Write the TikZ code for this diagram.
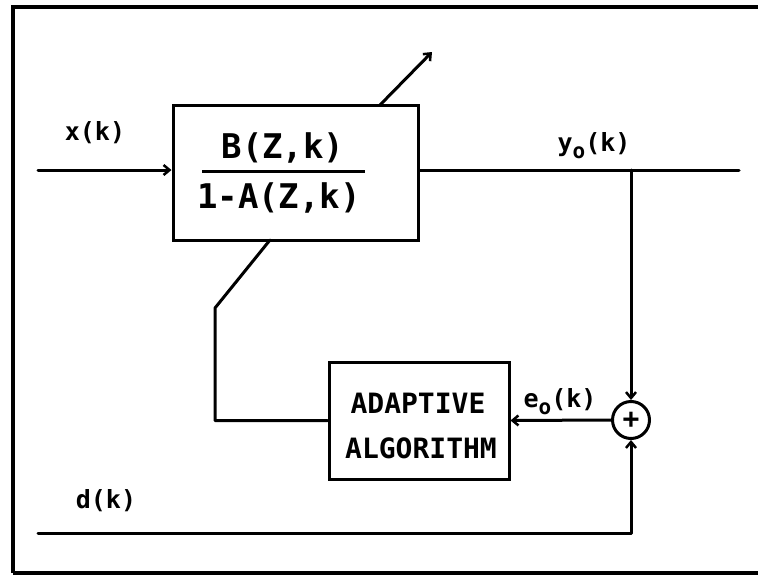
\documentclass[tikz,border=0pt]{standalone}
\usepackage{fontspec}
\newfontfamily\plotfont{DejaVu Sans Mono}
\usetikzlibrary{arrows.meta}
\tikzset{
  wire/.style={line width=3pt, line cap=round, line join=round},
  arr/.style={wire, -{Straight Barb[length=6pt,width=10pt,line width=2.5pt]}},
  blockbox/.style={draw, line width=3pt, rectangle, inner sep=0pt},
  bigtxt/.style={font=\plotfont\bfseries\fontsize{34}{34}\selectfont, inner sep=0pt},
  midtxt/.style={font=\plotfont\bfseries\fontsize{28}{28}\selectfont, inner sep=0pt},
  lbltxt/.style={font=\plotfont\bfseries\fontsize{25}{25}\selectfont, inner sep=0pt},
  summer/.style={draw, circle, line width=3pt, minimum size=37pt, inner sep=0pt}
}
\begin{document}
\begin{tikzpicture}[x=1pt,y=-1pt]
\useasboundingbox (0,0) rectangle (758,576);
% frame
\draw[line width=4.5pt] (13,573) -- (13,7) -- (758,7);
\draw[line width=4.5pt] (13,573) -- (758,573);

% blocks
\node[blockbox, minimum width=245pt, minimum height=135pt] (filt) at (295.5,172.5) {};
\node[bigtxt] (num) at (283,148) {B(Z,k)};
\node[bigtxt] (den) at (279,198) {1-A(Z,k)};
\draw[line width=3pt] (202,171) -- (365,171);

\node[blockbox, minimum width=180pt, minimum height=117pt] (adapt) at (419,420.5) {};
\node[midtxt] (t1) at (418,403) {ADAPTIVE};
\node[midtxt] (t2) at (421,448) {ALGORITHM};

\node[summer] (sum) at (631,420) {};
\node[font=\plotfont\bfseries\fontsize{28}{28}\selectfont, inner sep=0pt] (plus) at (sum.center) {+};

% coordinates
\coordinate (xin) at (38,170);
\coordinate (yout) at (739,170);
\coordinate (br) at (631,170);
\coordinate (din) at (38,533);
\coordinate (tip) at (432,52);
\coordinate (adjtop) at (380,105);
\coordinate (adjbot) at (270,240);
\coordinate (bend) at (215,308);

% connectors
\draw[arr] (xin) -- (xin -| filt.west);
\draw[wire] (xin -| filt.east) -- (yout);
\draw[arr] (br) -- (sum.north);
\draw[arr] (sum.west) -- (adapt.east);
\draw[arr] (din) -| (sum.south);
\draw[wire] (adapt.west) -| (bend) -- (adjbot);
\draw[arr] (adjtop) -- (tip);

% labels
\node[lbltxt] (lx) at (95,133) {x(k)};
\node[lbltxt] (ly) at (594,146) {y\raisebox{-7pt}{\fontsize{21}{21}\selectfont o}(k)};
\node[lbltxt] (le) at (560,402) {e\raisebox{-7pt}{\fontsize{21}{21}\selectfont o}(k)};
\node[lbltxt] (ld) at (106,501) {d(k)};
\end{tikzpicture}
\end{document}
